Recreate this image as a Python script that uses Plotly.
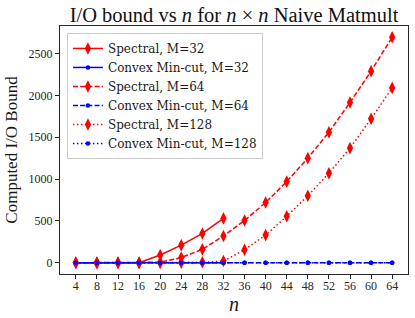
import plotly.graph_objects as go

n_32 = [4, 8, 12, 16, 20, 24, 28, 32]
n_all = [4, 8, 12, 16, 20, 24, 28, 32, 36, 40, 44, 48, 52, 56, 60, 64]

spectral_32 = [0, 0, 0, 0, 92, 210, 350, 530]
convex_32 = [0, 0, 0, 0, 0, 0, 0, 0]
spectral_64 = [0, 0, 0, 0, 5, 62, 160, 320, 505, 720, 970, 1250, 1560, 1915, 2290, 2695]
convex_64 = [0] * 16
spectral_128 = [0, 0, 0, 0, 0, 0, 5, 20, 155, 330, 555, 800, 1070, 1370, 1720, 2090]
convex_128 = [0] * 16

xticks = n_all
yticks = [0, 500, 1000, 1500, 2000, 2500]

FONT = "Liberation Serif"
LFONT = "DejaVu Serif"
RED = "#ff0000"
BLUE = "#0000ff"
DASH = "5px,2.2px"
DOT = "1.5px,2.5px"

series = [
    ("Spectral, M=32", n_32, spectral_32, RED, "solid", "spec"),
    ("Convex Min-cut, M=32", n_32, convex_32, BLUE, "solid", "conv"),
    ("Spectral, M=64", n_all, spectral_64, RED, DASH, "spec"),
    ("Convex Min-cut, M=64", n_all, convex_64, BLUE, DASH, "conv"),
    ("Spectral, M=128", n_all, spectral_128, RED, DOT, "spec"),
    ("Convex Min-cut, M=128", n_all, convex_128, BLUE, DOT, "conv"),
]

fig = go.Figure()
for name, x, y, color, dash, kind in series:
    if kind == "spec":
        marker = dict(symbol="diamond-tall", size=9, color=color, line=dict(width=0))
    else:
        marker = dict(symbol="circle", size=4.5, color=color, line=dict(width=0))
    fig.add_trace(go.Scatter(
        x=x, y=y, name=name, mode="lines+markers",
        line=dict(color=color, width=1.5, dash=dash),
        marker=marker,
    ))

axis_common = dict(
    showgrid=False, zeroline=False, showline=True, linecolor="#262626", linewidth=1,
    mirror=True, ticks="outside", ticklen=4, tickcolor="#262626", tickwidth=1,
    tickfont=dict(family=FONT, size=12, color="#262626"), automargin=False,
)

fig.update_layout(
    width=415, height=318,
    margin=dict(l=60, r=7, t=26, b=44),
    paper_bgcolor="white", plot_bgcolor="white",
    font=dict(family=FONT, color="#1a1a1a"),
    title=dict(
        text="I/O bound vs <i>n</i> for <i>n</i> × <i>n</i> Naive Matmult",
        x=0.5639, xanchor="center", y=0.953, yanchor="middle",
        font=dict(family=FONT, size=20.5, color="#111111"),
    ),
    xaxis=dict(
        **axis_common, range=[1, 67], tickmode="array", tickvals=xticks,
        ticklabelstandoff=-3,
        title=dict(text="<i>n</i>", font=dict(family=FONT, size=20), standoff=3),
    ),
    yaxis=dict(
        **axis_common, range=[-135, 2830], tickmode="array", tickvals=yticks,
        title=dict(text="Computed I/O Bound", font=dict(family=FONT, size=17), standoff=6),
    ),
    showlegend=True,
    legend=dict(
        x=0.02, y=0.972, xanchor="left", yanchor="top",
        bgcolor="rgba(255,255,255,0.8)", bordercolor="#cccccc", borderwidth=1,
        font=dict(family=LFONT, size=12, color="#1a1a1a"),
        itemwidth=30, tracegroupgap=0,
    ),
)

fig.write_html(
    "out.html",
    config={"displayModeBar": False},
    post_script="document.body.style.margin='0';document.body.style.padding='0';",
)
